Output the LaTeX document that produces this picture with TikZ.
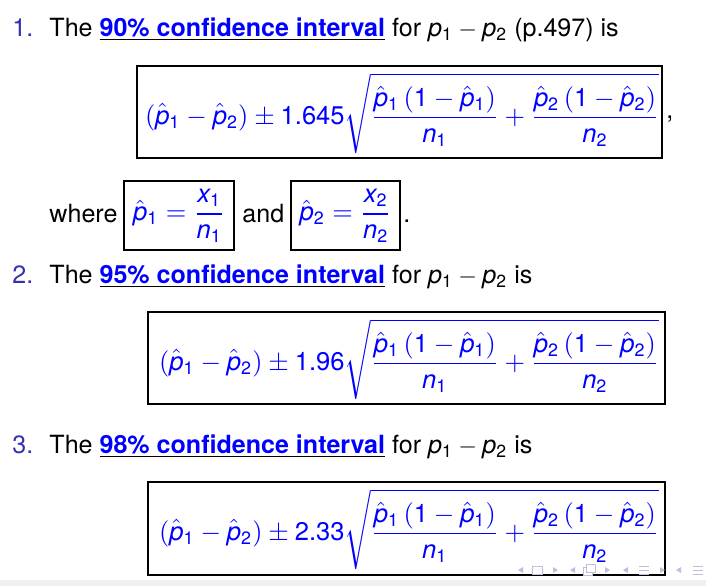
\documentclass[tikz,border=0pt]{standalone}
\usepackage{amsmath}
\usepackage{fontspec}
\setmainfont{TeX Gyre Heros}
\usepackage{tikz}

\definecolor{structblue}{RGB}{51,51,178}
\definecolor{navgray}{RGB}{190,190,225}
\newcommand{\vp}[1]{\mathit{p}_{\text{#1}}}
\newcommand{\vn}[1]{\mathit{n}_{\text{#1}}}
\newcommand{\vx}[1]{\mathit{x}_{\text{#1}}}
\newcommand{\ph}[1]{\hat{\mathit{p}}_{\text{#1}}}
\newcommand{\cibody}[1]{(\ph1-\ph2)\pm\text{#1}\sqrt{\frac{\ph1\,(\text{1}-\ph1)}{\vn1}+\frac{\ph2\,(\text{1}-\ph2)}{\vn2}}}
\newcommand{\cilabel}[1]{\underline{\textcolor{blue}{\bfseries #1\% confidence interval}}}

\begin{document}
\begin{tikzpicture}[x=0.415pt,y=-0.415pt,
	every node/.style={inner sep=0pt,font=\fontsize{10.4}{13}\selectfont},
	linehead/.style={anchor=base west},
	itemnum/.style={anchor=base west,text=structblue},
	formula/.style={text=blue,font=\fontsize{10.6}{13}\selectfont}]
	\useasboundingbox (0,0) rectangle (706,586);
	\fill[black!6] (0,580) rectangle (706,586);
	% first item, with the two estimates
	\node[itemnum] (num1) at (12,36) {1.};
	\node[linehead] (line1) at (49,36) {The \cilabel{90} for $\vp1-\vp2$ (p.497) is};
	\draw[line width=0.5pt] (137,66) rectangle (662,158);
	\node[formula] (ci90) at (402,113) {$\displaystyle\cibody{1.645}$};
	\node[linehead] (comma) at (666,118) {,};
	\node[linehead] (where) at (49,222) {where};
	\draw[line width=0.5pt] (124,181) rectangle (234,250);
	\node[formula] (phat1) at (179,216) {$\displaystyle\ph1=\frac{\vx1}{\vn1}$};
	\node[linehead] (and) at (242,222) {and};
	\draw[line width=0.5pt] (291,181) rectangle (400,250);
	\node[formula] (phat2) at (345.5,216) {$\displaystyle\ph2=\frac{\vx2}{\vn2}$};
	\node[linehead] (stop) at (403,222) {.};
	% second item
	\node[itemnum] (num2) at (12,283) {2.};
	\node[linehead] (line2) at (49,283) {The \cilabel{95} for $\vp1-\vp2$ is};
	\draw[line width=0.5pt] (148,312) rectangle (665,404);
	\node[formula] (ci95) at (409,359) {$\displaystyle\cibody{1.96}$};
	% third item
	\node[itemnum] (num3) at (12,453) {3.};
	\node[linehead] (line3) at (49,453) {The \cilabel{98} for $\vp1-\vp2$ is};
	\draw[line width=0.5pt] (148,482) rectangle (665,575);
	\node[formula] (ci98) at (409,529) {$\displaystyle\cibody{2.33}$};
	% navigation symbols
	\begin{scope}[navgray,line width=0.4pt]
		\fill (523,567) -- (518,570) -- (523,573) -- cycle;
		\draw (532,566) rectangle (542,574);
		\fill (553,567) -- (558,570) -- (553,573) -- cycle;
		\fill (575,567) -- (570,570) -- (575,573) -- cycle;
		\draw[fill=white] (583,567) rectangle (592,575);
		\draw[fill=white] (586,564) rectangle (595,572);
		\fill (605,567) -- (610,570) -- (605,573) -- cycle;
		\fill (628,567) -- (623,570) -- (628,573) -- cycle;
		\draw (639,566) -- (649,566) (639,570) -- (649,570) (639,574) -- (649,574);
		\fill (660,567) -- (665,570) -- (660,573) -- cycle;
		\fill (681,567) -- (676,570) -- (681,573) -- cycle;
		\draw (693,566) -- (703,566) (693,570) -- (703,570) (693,574) -- (703,574);
	\end{scope}
\end{tikzpicture}
\end{document}
